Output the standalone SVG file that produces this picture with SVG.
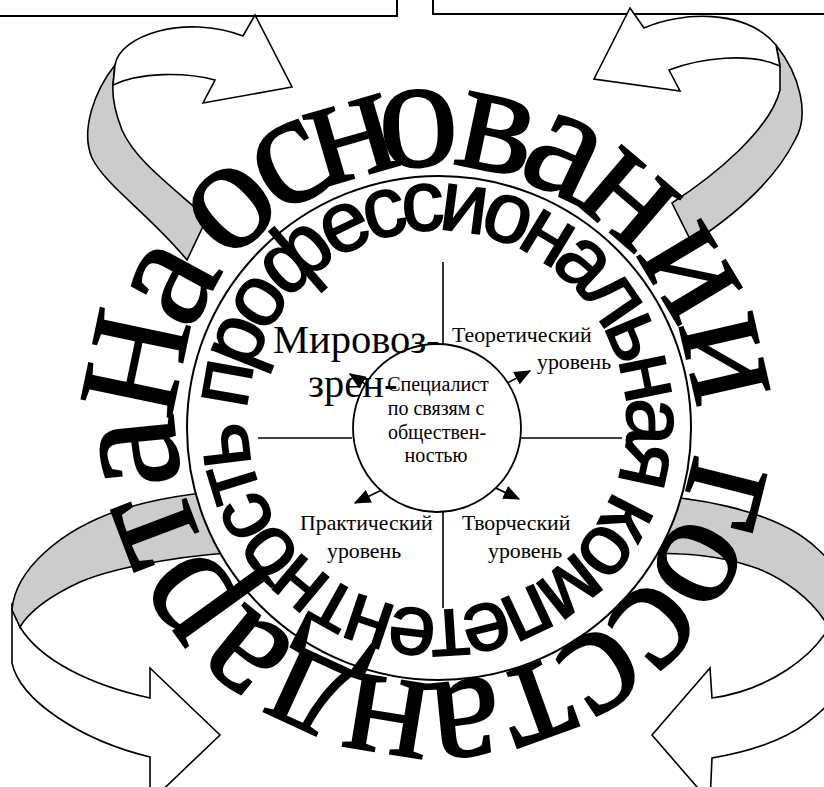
<svg xmlns="http://www.w3.org/2000/svg" width="824" height="787" viewBox="0 0 824 787">
<style>
.ln{stroke:#000;stroke-width:1.6;fill:none}
.face{fill:#fff;stroke:#000;stroke-width:1.6;stroke-linejoin:miter}
.band{fill:#ccc;stroke:#000;stroke-width:1.6}
.lbl{font-family:"Liberation Serif","Times New Roman",serif;font-size:21.8px;fill:#000}
.ctr{font-family:"Liberation Serif","Times New Roman",serif;font-size:20px;fill:#000;text-anchor:middle}
.big{font-family:"Liberation Serif","Times New Roman",serif;font-size:40.5px;fill:#000}
.outer{font-family:"Liberation Serif","Times New Roman",serif;font-size:162px;fill:#000;stroke:#000;stroke-width:1.6}
.inner{font-family:"Liberation Sans",Arial,sans-serif;font-size:86px;fill:#000;stroke:#000;stroke-width:1.6}
</style>
<defs>
<marker id="tri" viewBox="0 0 12 10" refX="11" refY="5" markerWidth="17" markerHeight="14" markerUnits="userSpaceOnUse" orient="auto">
<path d="M0,0 L12,5 L0,10 Z" fill="#000"/>
</marker>
<path id="outerPath" d="M175.01,422.28 A260,260 0 0 1 694.99,425.72 A260,260 0 0 1 175.01,422.28 A260,260 0 0 1 306.49,197.98"/>
<path id="innerPath" d="M247.26,410.06 A190,190 0 0 1 626.74,429.94 A190,190 0 0 1 247.26,410.06 A190,190 0 0 1 298.04,290.42"/>
</defs>
<rect width="824" height="787" fill="#fff"/>

<g id="box-left"><rect x="-5" y="-40" width="402" height="56" fill="#fff" stroke="#000" stroke-width="2"/></g>
<g id="box-right"><rect x="433" y="-40" width="400" height="54" fill="#fff" stroke="#000" stroke-width="2"/></g>

<g id="arrow-top-left">
<path class="band" d="M115,65 C95,90 80,130 92,158 C105,185 150,215 187,260 L207,218 C170,185 135,160 122,130 C115,112 112,98 113,85 Z"/>
<path class="face" d="M115,65 C120,35 185,14 243,36 L255,15 L292,87 L203,103 L215,80 C185,72 140,72 113,85 Z"/>
</g>
<g id="arrow-top-right">
<path class="band" d="M776,45 C800,75 810,115 795,140 C775,180 735,215 692,243 L672,203 C715,175 770,130 780,90 L780,66 Z"/>
<path class="face" d="M644,28 C680,12 745,8 776,45 L780,66 C750,52 700,58 669,70 L680,91 L594,79 L630,8 Z"/>
</g>
<g id="arrow-bottom-left">
<path class="face" d="M12,603 L12,663 C20,700 80,740 150,757 L150,802 L220,735 L150,668 L150,698 C90,685 40,660 20,627 Z"/>
<path class="band" d="M12,610 C15,570 60,530 120,510 C160,497 200,492 240,490 L250,552 C200,553 120,565 80,582 C50,596 30,610 20,627 Z"/>
</g>
<g id="arrow-bottom-right">
<path class="band" d="M640,495 C700,497 760,510 800,535 C830,555 850,585 860,620 L860,640 L830,630 C815,600 780,575 750,566 C720,556 690,553 640,553 Z"/>
<path class="face" d="M830,625 C815,655 770,690 712,698 L710,668 L652,735 L710,802 L712,758 C770,748 810,730 840,690 Z"/>
</g>

<g id="ring"><circle cx="439" cy="428" r="252" fill="#fff" stroke="#000" stroke-width="2"/></g>

<g id="connectors">
<line class="ln" x1="443" y1="262" x2="443" y2="345"/>
<line class="ln" x1="443" y1="512" x2="443" y2="608"/>
<line class="ln" x1="258" y1="438" x2="352" y2="438"/>
<line class="ln" x1="521" y1="438" x2="622" y2="438"/>
<line class="ln" x1="498" y1="388" x2="530" y2="371" marker-end="url(#tri)"/>
<line class="ln" x1="392" y1="485" x2="355" y2="503" marker-end="url(#tri)"/>
<line class="ln" x1="483" y1="482" x2="519" y2="499" marker-end="url(#tri)"/>
<line class="ln" x1="374" y1="390" x2="350" y2="374" marker-end="url(#tri)"/>
</g>

<g id="center"><circle cx="437" cy="428" r="84" fill="#fff" stroke="#000" stroke-width="1.8"/>
<text class="ctr" x="438" y="391">Специалист</text>
<text class="ctr" x="436" y="415">по связям с</text>
<text class="ctr" x="437" y="439">обществен-</text>
<text class="ctr" x="436" y="462">ностью</text>
</g>
<g id="worldview"><text class="big" x="273" y="353">Мировоз-</text><text class="big" x="308" y="397">зрен-</text></g>
<g id="theory"><text class="lbl" x="452" y="342">Теоретический</text><text class="lbl" x="537" y="369">уровень</text></g>
<g id="practice"><text class="lbl" x="300" y="530">Практический</text><text class="lbl" x="327" y="558">уровень</text></g>
<g id="creative"><text class="lbl" x="462" y="530">Творческий</text><text class="lbl" x="488" y="558">уровень</text></g>

<g id="ring-inner-text"><text class="inner"><textPath href="#innerPath" textLength="1183" lengthAdjust="spacing">профессиональная компетентность</textPath></text></g>
<g id="ring-outer-text"><text class="outer"><textPath href="#outerPath"><tspan x="0" font-size="140">Н</tspan><tspan x="89.8 160.9 169 237 288 350 421.1 484.7 545.4 629.4 711.1 796.9 841.3 897.6 967.9 1029.2 1093.2 1156.3 1217 1289.5 1360.5 1424.1 1497.1 1564.7">а основании госстандарта</tspan></textPath></text></g>
</svg>
